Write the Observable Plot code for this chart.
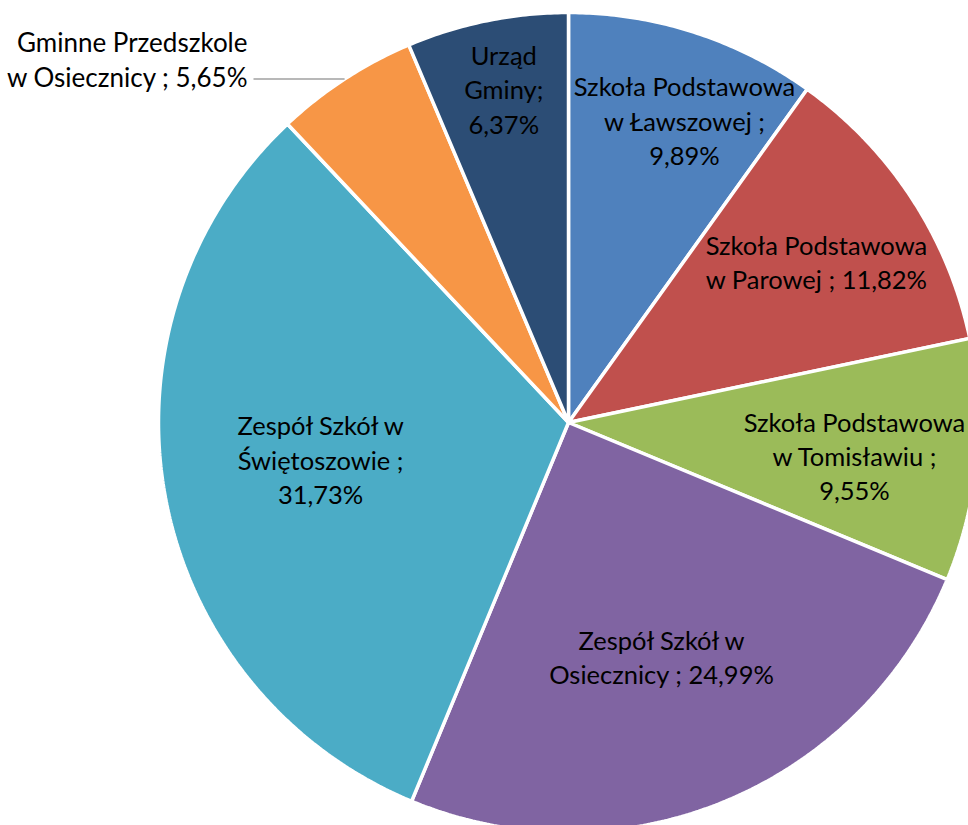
<!DOCTYPE html>
<html>
<head>
<meta charset="utf-8">
<script src="https://cdn.jsdelivr.net/npm/d3@7"></script>
<script src="https://cdn.jsdelivr.net/npm/@observablehq/plot@0.6"></script>
<style>
  html, body { margin: 0; padding: 0; background: #fff; overflow: hidden; }
  #chart svg { display: block; overflow: hidden; }
</style>
</head>
<body>
<div id="chart"></div>
<script>
// ---- data ----
const names = [
  "Szkoła Podstawowa w Ławszowej",
  "Szkoła Podstawowa w Parowej",
  "Szkoła Podstawowa w Tomisławiu",
  "Zespół Szkół w Osiecznicy",
  "Zespół Szkół w Świętoszowie",
  "Gminne Przedszkole w Osiecznicy",
  "Urząd Gminy"
];
const shares = [9.89, 11.82, 9.55, 24.99, 31.73, 5.65, 6.37];
// label wrapping as in the original ({v} = value)
const labelTemplates = [
  "Szkoła Podstawowa\nw Ławszowej ;\n{v}",
  "Szkoła Podstawowa\nw Parowej ; {v}",
  "Szkoła Podstawowa\nw Tomisławiu ;\n{v}",
  "Zespół Szkół w\nOsiecznicy ; {v}",
  "Zespół Szkół w\nŚwiętoszowie ;\n{v}",
  "Gminne Przedszkole\nw Osiecznicy ; {v}",
  "Urząd\nGminy;\n{v}"
];
const colors = ["#4F81BD", "#C0504D", "#9BBB59", "#8064A2", "#4BACC6", "#F79646", "#2C4D75"];

// ---- layout ----
const W = 968, H = 825;
const CX = 568, CY = 422, R = 410;
const labelRadius = [0.791, 0.722, 0.702, 0.614, 0.611, null, 0.830];
const labelAngleShift = [3.15, 0.0, 1.2, 0.8, 2.1, 0, 0.5];
const outsideLabelEnd = 247 - CX;   // right end of outside label text (data units = px)
const leaderEnd = 253 - CX;
const FONT = 25.5;

const fmt = v => v.toFixed(2).replace(".", ",") + "%";
const total = d3.sum(shares);
const rad = d => d * Math.PI / 180;

// build slice polygons
const polys = [];
const labels = [];
const leaders = [];
let start = 0;
shares.forEach((s, i) => {
  const a0 = start / total * 360;
  const a1 = (start + s) / total * 360;
  start += s;
  polys.push({x: 0, y: 0, k: i, c: colors[i]});
  const n = Math.max(2, Math.ceil((a1 - a0) / 0.5));
  for (let j = 0; j <= n; j++) {
    const a = rad(a0 + (a1 - a0) * j / n);
    polys.push({x: R * Math.sin(a), y: R * Math.cos(a), k: i, c: colors[i]});
  }
  const mid = (a0 + a1) / 2;
  const text = labelTemplates[i].replace("{v}", fmt(s));
  if (labelRadius[i] != null) {
    const a = rad(mid + labelAngleShift[i]);
    const rr = R * labelRadius[i];
    labels.push({x: rr * Math.sin(a), y: rr * Math.cos(a), text, anchor: "middle"});
  } else {
    const a = rad(mid);
    const ex = R * Math.sin(a), ey = R * Math.cos(a);
    leaders.push({x1: ex, y1: ey, x2: leaderEnd, y2: ey});
    labels.push({x: outsideLabelEnd, y: ey + 21, text, anchor: "end"});
  }
});

const inside = labels.filter(d => d.anchor === "middle");
const outside = labels.filter(d => d.anchor === "end");

const chart = Plot.plot({
  width: W,
  height: H,
  margin: 0,
  style: {background: "#fff", fontFamily: "Lato, 'Open Sans', sans-serif"},
  x: {domain: [-CX, W - CX], range: [0, W], axis: null},
  y: {domain: [CY - H, CY], range: [H, 0], axis: null},
  marks: [
    Plot.line(polys, {x: "x", y: "y", z: "k", fill: "c", stroke: "#fff", strokeWidth: 3.5, curve: "linear-closed", strokeLinejoin: "miter"}),
    Plot.link(leaders, {x1: "x1", y1: "y1", x2: "x2", y2: "y2", stroke: "#A0A0A0", strokeWidth: 1.5}),
    Plot.text(inside, {x: "x", y: "y", text: "text", fontSize: FONT, lineHeight: 1.34, fill: "#000", textAnchor: "middle"}),
    Plot.text(outside, {x: "x", y: "y", text: "text", fontSize: FONT + 0.5, lineHeight: 1.34, fill: "#000", textAnchor: "end"})
  ]
});
document.getElementById("chart").appendChild(chart);
</script>
</body>
</html>
